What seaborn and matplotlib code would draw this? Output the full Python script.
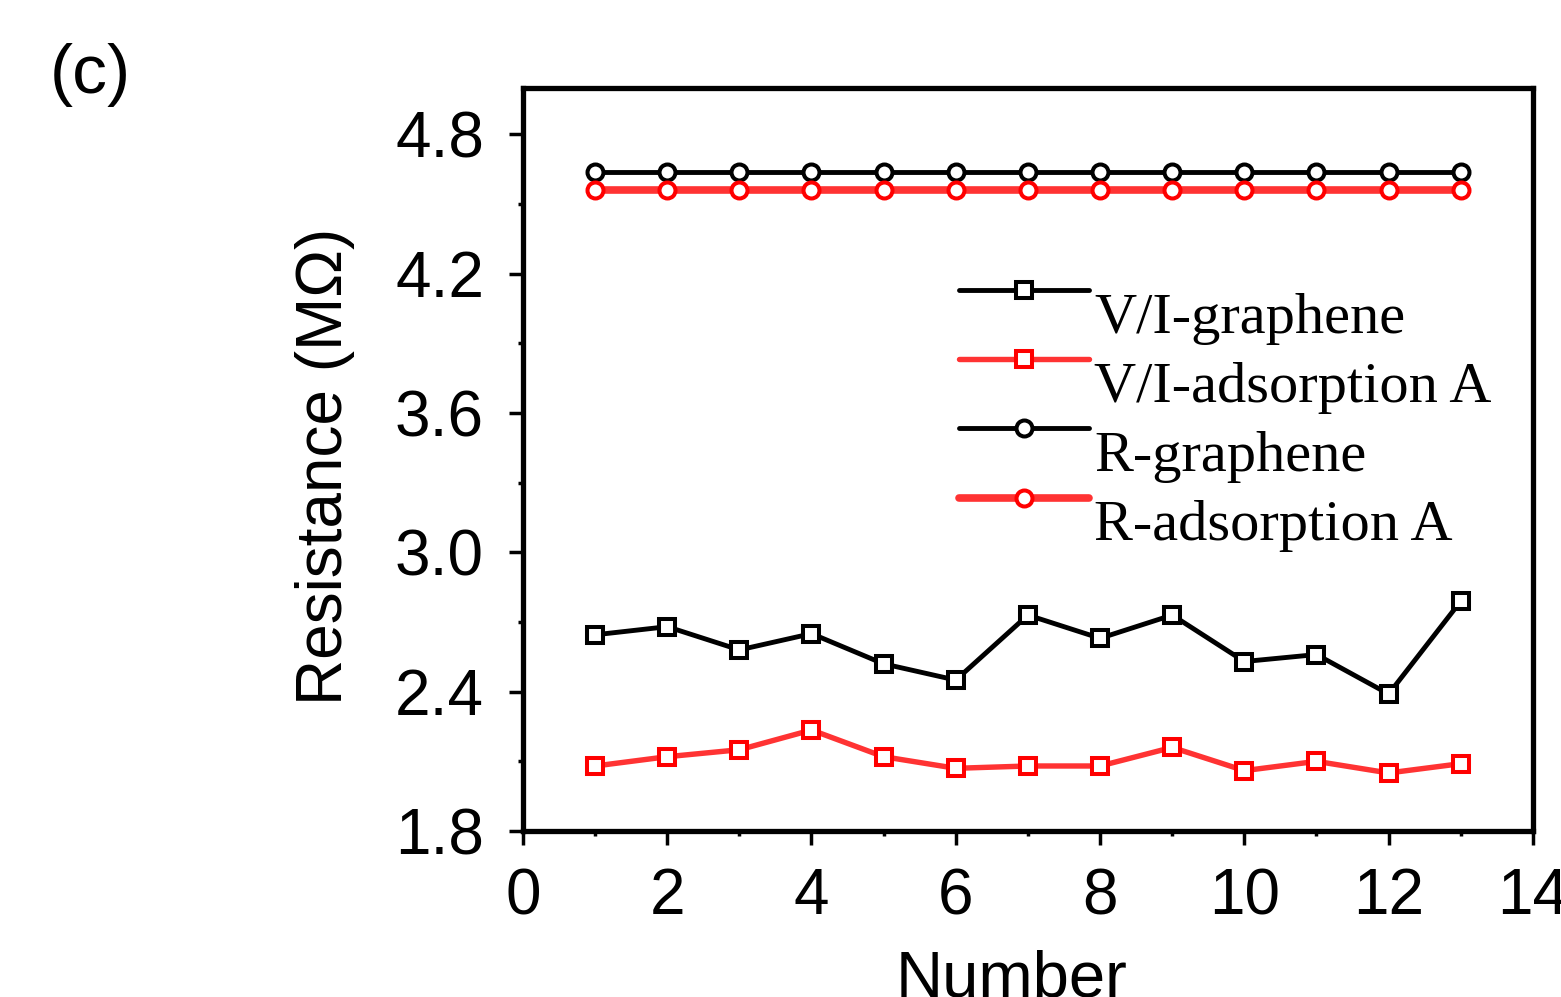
import numpy as np
import pandas as pd
import matplotlib
matplotlib.use("Agg")
import matplotlib.pyplot as plt
import seaborn as sns
from matplotlib.legend_handler import HandlerLine2D
from matplotlib.lines import Line2D
from matplotlib.ticker import MultipleLocator

# ---- data ----
number = list(range(1, 14))
vi_graphene = [2.645, 2.68, 2.58, 2.65, 2.52, 2.45, 2.73, 2.63, 2.73, 2.53, 2.56, 2.39, 2.79]
vi_adsorption = [2.08, 2.12, 2.15, 2.235, 2.12, 2.07, 2.08, 2.08, 2.16, 2.06, 2.10, 2.05, 2.09]
r_graphene = [4.64] * 13
r_adsorption = [4.56] * 13
labels = ["V/I-graphene", "V/I-adsorption A", "R-graphene", "R-adsorption A"]

sns.set_theme(style="ticks")
plt.rcParams['font.family'] = ['Liberation Sans', 'DejaVu Sans']
plt.rcParams['text.color'] = 'black'
plt.rcParams['axes.labelcolor'] = 'black'
plt.rcParams['xtick.color'] = 'black'
plt.rcParams['ytick.color'] = 'black'

fig = plt.figure(figsize=(15.61, 9.97), dpi=100)
ax = fig.add_axes([0.335, 0.1665, 0.982 - 0.335, 0.9117 - 0.1665])

series = [
    (vi_graphene, labels[0], 'black', 's', 'black', 3.5),
    (vi_adsorption, labels[1], '#ff3333', 's', 'red', 3.9),
    (r_graphene, labels[2], 'black', 'o', 'black', 3.5),
    (r_adsorption, labels[3], '#ff3333', 'o', 'red', 5.5),
]
for vals, lab, col, mk, mec, lw in series:
    df = pd.DataFrame({"Number": number, "R": vals})
    sns.lineplot(data=df, x="Number", y="R", ax=ax, color=col, marker=mk,
                 markersize=11.5, markerfacecolor='white', markeredgecolor=mec,
                 markeredgewidth=2.9, linewidth=lw, label=lab, legend=False)

ax.set_xlim(0, 14)
ax.set_ylim(1.8, 5.0)
ax.xaxis.set_major_locator(MultipleLocator(2))
ax.xaxis.set_minor_locator(MultipleLocator(1))
ax.yaxis.set_major_locator(MultipleLocator(0.6))
ax.yaxis.set_minor_locator(MultipleLocator(0.3))
ax.yaxis.set_major_formatter(matplotlib.ticker.FormatStrFormatter('%.1f'))

for s in ax.spines.values():
    s.set_linewidth(3.8)
    s.set_color('black')
ax.tick_params(axis='both', which='major', direction='out', length=10, width=2.5,
               labelsize=46, colors='black', top=False, right=False)
ax.tick_params(axis='both', which='minor', direction='out', length=3.5, width=2.5,
               colors='black', top=False, right=False)
ax.tick_params(axis='x', which='major', pad=16)
ax.tick_params(axis='y', which='major', pad=18)

ax.set_xlabel("Number", fontsize=47, color='black')
ax.set_ylabel("Resistance (MΩ)", fontsize=46, color='black')
ax.xaxis.set_label_coords(0.484, -0.16)
ax.xaxis.label.set_va('top')
ax.yaxis.set_label_coords(-0.196, 0.491)
ax.yaxis.label.set_va('center')


class ShiftHandler(HandlerLine2D):
    def __init__(self, dy, **kw):
        super().__init__(**kw)
        self.dy = dy

    def create_artists(self, legend, orig_handle, xdescent, ydescent, width,
                       height, fontsize, trans):
        arts = super().create_artists(legend, orig_handle, xdescent, ydescent,
                                      width, height, fontsize, trans)
        for a in arts:
            a.set_ydata(np.asarray(a.get_ydata()) + self.dy)
        return arts


handles = ax.get_lines()[:4]
leg = ax.legend(handles, labels, loc='upper left', bbox_to_anchor=(0.409, 0.757),
                frameon=False, numpoints=1, handlelength=2.23, handletextpad=0.08,
                labelspacing=0.28, borderaxespad=0,
                prop={'family': 'Liberation Serif', 'size': 42},
                handler_map={Line2D: ShiftHandler(16)})
for t in leg.get_texts():
    t.set_color('black')

fig.text(0.058, 0.925, "(c)", fontsize=50, ha='center', va='center', color='black')

fig.savefig("out.png", dpi=100)
